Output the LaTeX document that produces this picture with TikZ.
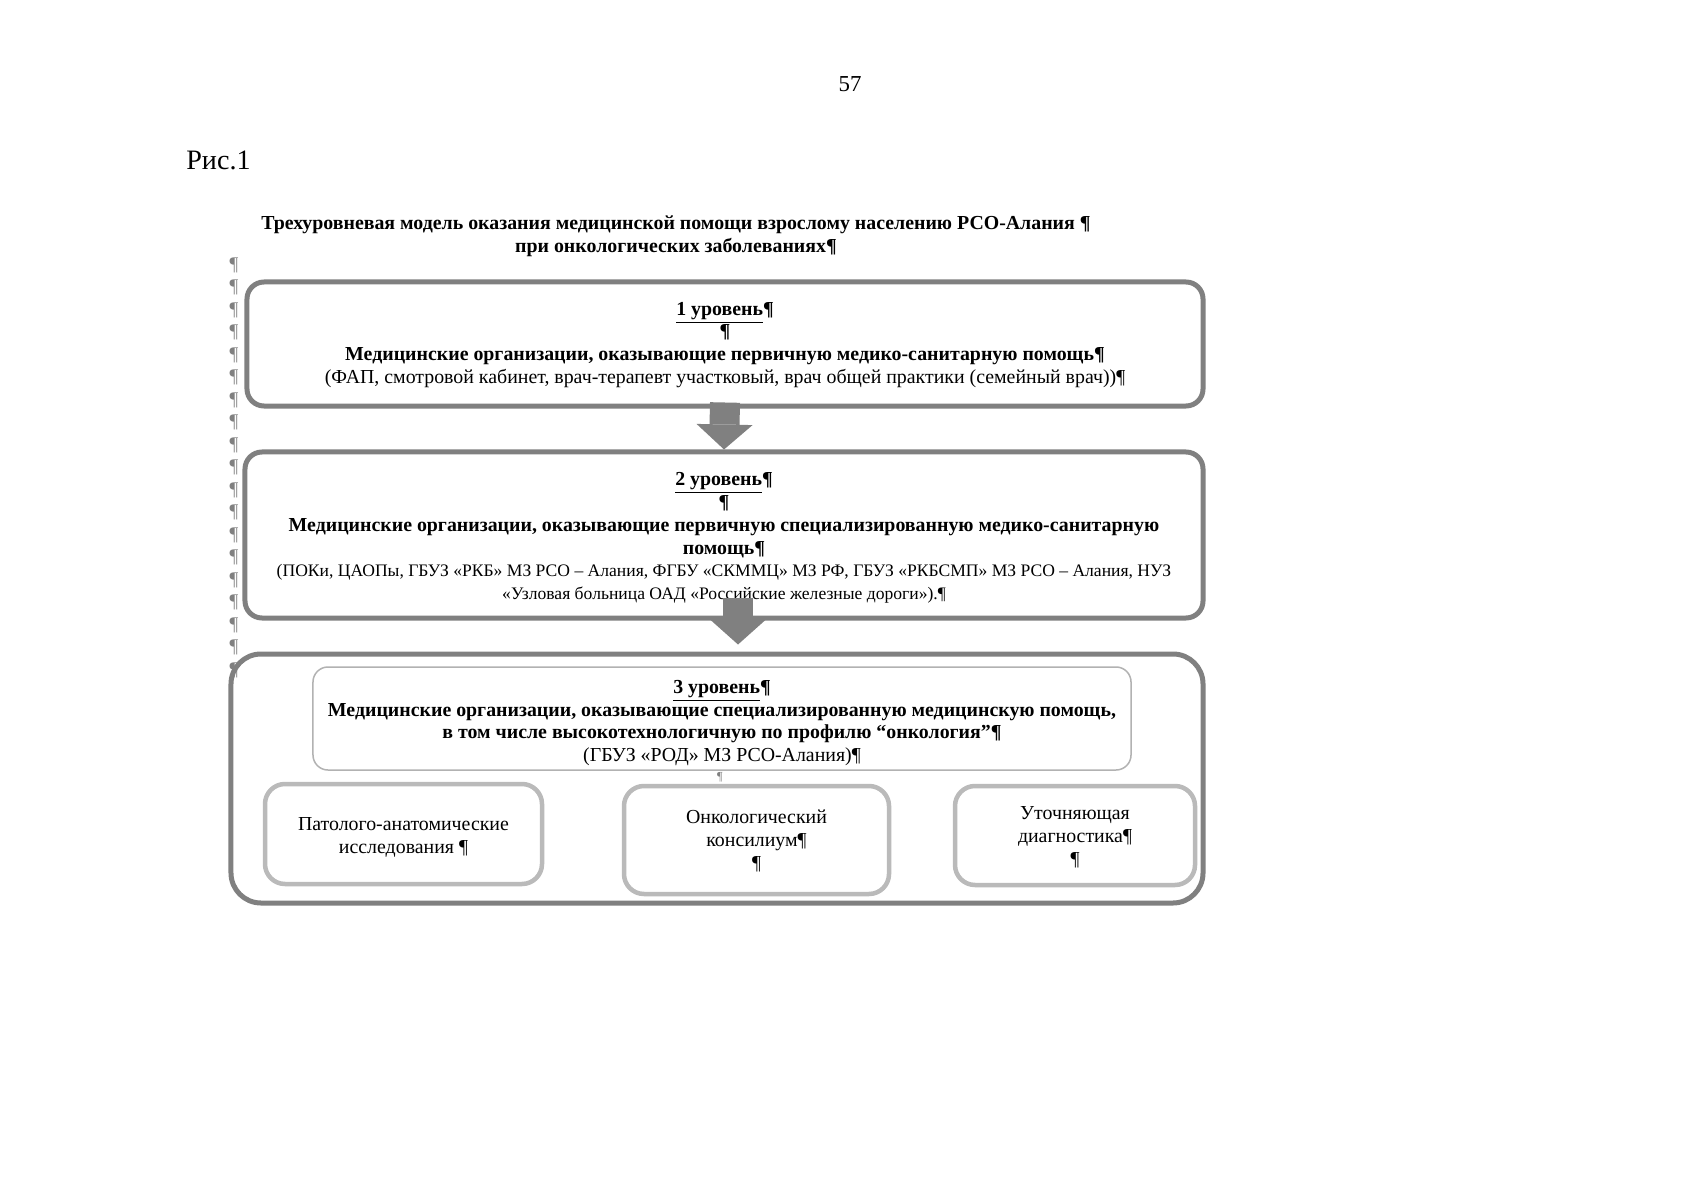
\documentclass[tikz,border=0pt]{standalone}
\usepackage{fontspec}
\setmainfont{Liberation Serif}
\usetikzlibrary{arrows.meta, calc}

\begin{document}
\begin{tikzpicture}[x=0.2mm, y=-0.2mm,
  levelbox/.style={draw=gray, line width=1mm, rounded corners=3.4mm, inner sep=0pt},
  innerbox/.style={draw=black!30, line width=0.3mm, rounded corners=3mm, inner sep=0pt},
  subbox/.style={draw=black!27, line width=0.9mm, rounded corners=4mm, inner sep=0pt},
  boxtext/.style={align=center, inner sep=0pt, font=\fontsize{11.3}{13}\selectfont},
  blockarrow/.style={draw=gray, line width=6mm, -{Triangle[width=11.2mm, length=5mm, line width=0pt]}},
  pilcrow/.style={text=black!50, font=\fontsize{11}{11}\selectfont, inner sep=0pt}]

  \useasboundingbox (0,0) rectangle (1697,1200);
  \fill[white] (0,0) rectangle (1697,1200);

  % Номер страницы и подпись
  \node[font=\fontsize{13}{13}\selectfont] (page) at (850,84) {57};
  \node[font=\fontsize{16}{16}\selectfont, anchor=west, inner sep=0pt] (fig) at (186,160) {Рис.1};

  % Заголовок
  \node[boxtext, font=\bfseries\fontsize{11.3}{13}\selectfont] (title) at (676,236)
    {Трехуровневая модель оказания медицинской помощи взрослому населению РСО-Алания ¶\\
     при онкологических заболеваниях¶};

  % Знаки абзаца слева
  \foreach \i in {0,...,18}
    \node[pilcrow] (mark\i) at (234,265+22.5*\i) {¶};

  % 1 уровень
  \node[levelbox, minimum width=191.2mm, minimum height=24.8mm] (lvl1) at (725,344) {};
  \node[boxtext] (lvl1text) at ($(lvl1)+(0,1)$)
    {\textbf{\underline{1 уровень}¶}\\
     \textbf{¶}\\
     \textbf{Медицинские организации, оказывающие первичную медико-санитарную помощь¶}\\
     (ФАП, смотровой кабинет, врач-терапевт участковый, врач общей практики (семейный врач))¶};

  % 2 уровень
  \node[levelbox, minimum width=191.6mm, minimum height=33.2mm] (lvl2) at (724,535) {};
  \node[boxtext] (lvl2text) at ($(lvl2)+(0,3)$)
    {\textbf{\underline{2 уровень}¶}\\
     \textbf{¶}\\
     \textbf{Медицинские организации, оказывающие первичную специализированную медико-санитарную}\\
     \textbf{помощь¶}\\
     {\fontsize{10}{13}\selectfont (ПОКи, ЦАОПы, ГБУЗ «РКБ» МЗ РСО – Алания, ФГБУ «СКММЦ» МЗ РФ, ГБУЗ «РКБСМП» МЗ РСО – Алания, НУЗ}\\
     {\fontsize{10}{13}\selectfont «Узловая больница ОАД «Российские железные дороги»).¶}};

  % 3 уровень
  \node[levelbox, rounded corners=6mm, minimum width=194.4mm, minimum height=49.8mm] (lvl3) at (717,778.5) {};
  \node[innerbox, minimum width=163.6mm, minimum height=20.6mm] (lvl3head) at (722,718.5) {};
  \node[boxtext] (lvl3text) at ($(lvl3head)+(0,4.5)$)
    {\textbf{\underline{3 уровень}¶}\\
     \textbf{Медицинские организации, оказывающие специализированную медицинскую помощь,}\\
     \textbf{в том числе высокотехнологичную по профилю “онкология”¶}\\
     (ГБУЗ «РОД» МЗ РСО-Алания)¶};
  \node[pilcrow, font=\fontsize{7}{7}\selectfont] (mark) at (720,777) {¶};

  \node[subbox, minimum width=55.4mm, minimum height=20mm] (patho) at (403.5,834) {};
  \node[boxtext] (pathotext) at ($(patho)+(0,3)$) {Патолого-анатомические\\ исследования ¶};
  \node[subbox, minimum width=53mm, minimum height=21.6mm] (council) at (756.5,840) {};
  \node[boxtext] (counciltext) at ($(council)+(0,1)$) {Онкологический\\ консилиум¶\\ ¶};
  \node[subbox, minimum width=48mm, minimum height=19.8mm] (diag) at (1075,835.5) {};
  \node[boxtext] (diagtext) at ($(diag)+(0,2)$) {Уточняющая\\ диагностика¶\\ ¶};

  % Стрелки между уровнями
  \draw[blockarrow] ($(lvl1.south)+(0,-6)$) -- (lvl2.north);
  \draw[blockarrow] ($(lvl2.south)+(14,-23)$) -- ($(lvl3.north)+(21,-7)$);
\end{tikzpicture}
\end{document}
